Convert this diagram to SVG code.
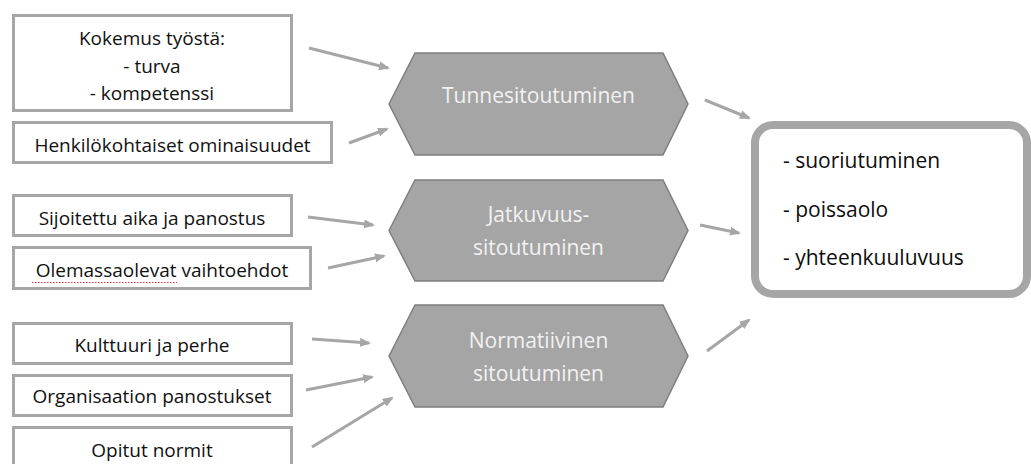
<svg xmlns="http://www.w3.org/2000/svg" width="1031" height="464" viewBox="0 0 1031 464">
<style>
.box{fill:#ffffff;stroke:#a6a6a6;stroke-width:3}
.hex{fill:#a5a5a5;stroke:#7f7f7f;stroke-width:1.5}
.t{font-family:"Open Sans","Liberation Sans",sans-serif;font-size:19px;fill:#111111;text-anchor:middle}
.ht{font-family:"Open Sans","Liberation Sans",sans-serif;font-size:21px;fill:#f2f2f2;text-anchor:middle}
.rt{font-family:"Open Sans","Liberation Sans",sans-serif;font-size:21px;fill:#0d0d0d}
.arr{stroke:#a6a6a6;stroke-width:3;fill:none;marker-end:url(#ah)}
</style>
<defs>
<marker id="ah" markerUnits="userSpaceOnUse" markerWidth="12" markerHeight="10" refX="9" refY="4.5" orient="auto">
<path d="M0,0 L11,4.5 L0,9 z" fill="#a6a6a6"/>
</marker>
<clipPath id="c1"><rect x="15" y="17" width="275" height="84"/></clipPath>
</defs>
<rect width="1031" height="464" fill="#ffffff"/>
<g id="n-kokemus">
<rect class="box" x="13.5" y="15.5" width="278" height="95"/>
<g clip-path="url(#c1)">
<text class="t" x="152" y="45">Kokemus työstä:</text>
<text class="t" x="152" y="73">- turva</text>
<text class="t" x="152" y="100">- kompetenssi</text>
</g>
</g>
<g id="n-henkilo">
<rect class="box" x="13.5" y="122.5" width="318" height="40"/>
<text class="t" x="172.5" y="152">Henkilökohtaiset ominaisuudet</text>
</g>
<g id="n-sijoitettu">
<rect class="box" x="13.5" y="195.5" width="278" height="40"/>
<text class="t" x="152" y="225">Sijoitettu aika ja panostus</text>
</g>
<g id="n-olemassa">
<rect class="box" x="13.5" y="247.5" width="297" height="41"/>
<text class="t" x="162" y="277">Olemassaolevat vaihtoehdot</text>
<line x1="32" y1="282.5" x2="177" y2="282.5" stroke="#e03030" stroke-width="1" stroke-dasharray="1.5 1.5"/>
</g>
<g id="n-kulttuuri">
<rect class="box" x="13.5" y="323.5" width="278" height="40"/>
<text class="t" x="152" y="352">Kulttuuri ja perhe</text>
</g>
<g id="n-organisaatio">
<rect class="box" x="13.5" y="375.5" width="278" height="40"/>
<text class="t" x="152" y="403">Organisaation panostukset</text>
</g>
<g id="n-opitut">
<rect class="box" x="13.5" y="427.5" width="278" height="60"/>
<text class="t" x="152" y="457">Opitut normit</text>
</g>
<g id="n-tunne">
<polygon class="hex" points="389,104 415,53 663,53 688,104 663,155 415,155"/>
<text class="ht" x="538.5" y="103">Tunnesitoutuminen</text>
</g>
<g id="n-jatkuvuus">
<polygon class="hex" points="389,230.5 415,180 663,180 688,230.5 663,281 415,281"/>
<text class="ht" x="538.5" y="222">Jatkuvuus-</text>
<text class="ht" x="538.5" y="255">sitoutuminen</text>
</g>
<g id="n-normatiivinen">
<polygon class="hex" points="389,356 415,305 663,305 688,356 663,407 415,407"/>
<text class="ht" x="538.5" y="348">Normatiivinen</text>
<text class="ht" x="538.5" y="381">sitoutuminen</text>
</g>
<g id="n-seuraukset">
<rect x="755" y="125" width="272" height="169" rx="18" ry="18" fill="#ffffff" stroke="#a6a6a6" stroke-width="8"/>
<text class="rt" x="783" y="168">- suoriutuminen</text>
<text class="rt" x="783" y="217">- poissaolo</text>
<text class="rt" x="783" y="265">- yhteenkuuluvuus</text>
</g>
<g id="connectors">
<line class="arr" x1="309" y1="48" x2="388" y2="68"/>
<line class="arr" x1="349" y1="143" x2="387" y2="129"/>
<line class="arr" x1="308" y1="217" x2="373" y2="225"/>
<line class="arr" x1="328" y1="268" x2="384" y2="256"/>
<line class="arr" x1="312" y1="339" x2="369" y2="343"/>
<line class="arr" x1="306" y1="390" x2="372" y2="377"/>
<line class="arr" x1="312" y1="447" x2="392" y2="398"/>
<line class="arr" x1="705" y1="100" x2="749" y2="118"/>
<line class="arr" x1="700" y1="225" x2="739" y2="233"/>
<line class="arr" x1="707" y1="351" x2="749" y2="320"/>
</g>
</svg>
